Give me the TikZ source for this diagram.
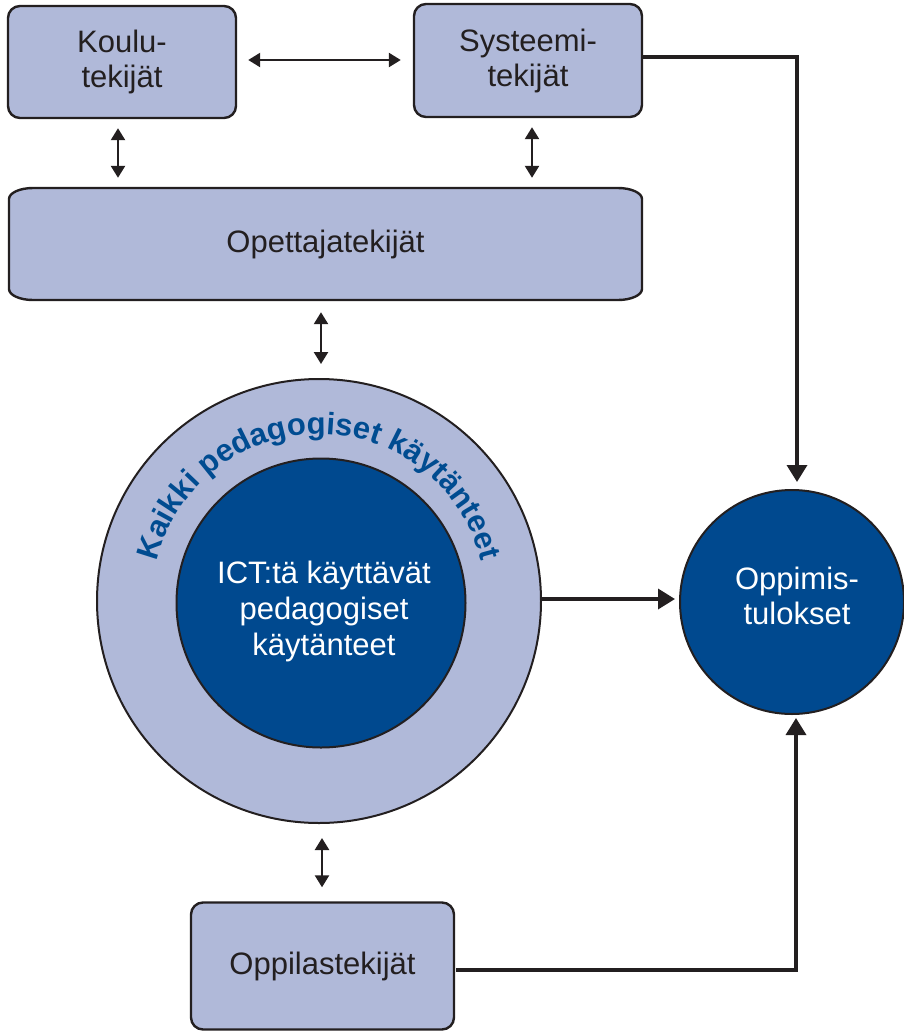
\documentclass[tikz,border=0pt]{standalone}
\usepackage{fontspec}
\setmainfont{Liberation Sans}
\usetikzlibrary{arrows.meta,calc,decorations.text}
\definecolor{lightfill}{RGB}{176,185,217}
\definecolor{darkfill}{RGB}{0,73,143}
\definecolor{ink}{RGB}{35,31,32}
\definecolor{curveblue}{RGB}{0,76,145}
\tikzset{
  boxnode/.style={draw=ink, line width=2.4pt, fill=lightfill, rounded corners=12pt, text=ink, align=center, font=\fontsize{31}{35}\selectfont, inner sep=0pt},
  plainbox/.style={draw=ink, line width=2.4pt, fill=lightfill},
  labeltext/.style={align=center, font=\fontsize{31}{35}\selectfont, inner sep=0pt},
  ring/.style={circle, draw=ink, line width=2pt, inner sep=0pt},
  dblarrow/.style={draw=ink, line width=2.4pt, {Triangle[length=12pt,width=14pt]}-{Triangle[length=12pt,width=14pt]}},
  route/.style={draw=ink, line width=3.5pt, -{Triangle[length=17pt,width=20pt]}},
}
\begin{document}
\begin{tikzpicture}[x=1pt,y=1pt]
\useasboundingbox (0,0) rectangle (903,-1031);
% top boxes
\node[boxnode, minimum width=228, minimum height=112] (koulu) at (122,-62) {Koulu-\\tekijät};
\node[boxnode, minimum width=228, minimum height=113] (syst) at (528,-60.5) {Systeemi-\\tekijät};
% teacher box
\draw[plainbox] (33,-188) -- (618,-188)
  arc[start angle=90, end angle=0, x radius=24, y radius=11] -- (642,-289)
  arc[start angle=0, end angle=-90, x radius=24, y radius=11] -- (33,-300)
  arc[start angle=-90, end angle=-180, x radius=24, y radius=11] -- (9,-199)
  arc[start angle=180, end angle=90, x radius=24, y radius=11] -- cycle;
\node[labeltext, text=ink, minimum width=633, minimum height=112] (opett) at (325.5,-244) {Opettajatekijät};
% big circle
\node[ring, fill=lightfill, minimum size=444] (big) at (319,-601) {};
\node[ring, fill=darkfill, minimum size=289] (ict) at (321,-603) {};
\node[labeltext, text=white, font=\fontsize{31}{36}\selectfont] (ictlabel) at (324,-611) {ICT:tä käyttävät\\pedagogiset\\käytänteet};
\path[decorate, decoration={text along path,
    text={|\fontsize{31}{31}\selectfont\bfseries|Kaikki pedagogiset käytänteet},
    text align=center, text color=curveblue}]
  ($(big.center)+(176:167)$) arc[start angle=176, end angle=4, radius=167];
% outcome circle
\node[ring, fill=darkfill, minimum size=224] (opp) at (792,-602) {};
\node[labeltext, text=white] (opplabel) at (797,-596) {Oppimis-\\tulokset};
% student box
\node[boxnode, minimum width=263, minimum height=127] (oppil) at (322.5,-966) {Oppilastekijät};
% double arrows
\draw[dblarrow] ($(koulu.east)+(11,2)$) -- ($(syst.west)+(-12,0.5)$);
\draw[dblarrow] ($(koulu.south)+(-4,-9)$) -- ($(koulu.south |- opett.north)+(-4,10)$);
\draw[dblarrow] ($(syst.south)+(4,-9)$) -- ($(syst.south |- opett.north)+(4,10)$);
\draw[dblarrow] ($(opett.south)+(-4.5,-12)$) -- ($(big.north)+(2,14)$);
\draw[dblarrow] ($(big.south)+(3,-14)$) -- ($(oppil.north)+(-0.5,14)$);
% routes to outcomes
\draw[route] ($(syst.east)+(0,3.5)$) -| ($(opp.north)+(5,7)$);
\draw[route] ($(big.east)+(0,2)$) -- ($(big.east -| opp.west)+(-4,2)$);
\draw[route] ($(oppil.east)+(1,-4)$) -| ($(opp.south)+(4,-3)$);
\end{tikzpicture}
\end{document}
